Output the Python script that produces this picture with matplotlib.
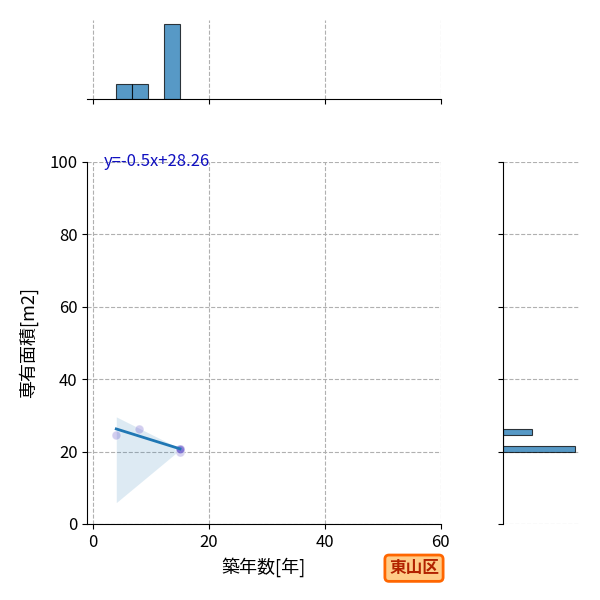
import numpy as np
import matplotlib
matplotlib.use("Agg")
import matplotlib.pyplot as plt

plt.rcParams['font.family'] = ['Noto Sans CJK JP', 'DejaVu Sans']
plt.rcParams['font.size'] = 12

# 読み取ったデータ
age = [4, 8, 15, 15, 15, 15, 15]          # 築年数[年]
area = [24.7, 26.2, 20.0, 20.5, 20.6, 20.6, 20.7]  # 専有面積[m2]
slope, intercept = -0.5, 28.26
band_x = [4, 15]
band_lo = [5.9, 20.5]
band_hi = [29.6, 20.8]
ward = "東山区"

fig = plt.figure(figsize=(6, 6), dpi=100)
ax = fig.add_axes([0.1455, 0.1267, 0.589, 0.6033])
ax_top = fig.add_axes([0.1455, 0.835, 0.589, 0.1317], sharex=ax)
ax_right = fig.add_axes([0.8378, 0.1267, 0.127, 0.6033], sharey=ax)

grid_kw = dict(color='#b0b0b0', linestyle='--', linewidth=0.8)

# 散布図 + 回帰直線
ax.scatter(age, area, s=40, color='slateblue', alpha=0.3, edgecolor='white', linewidth=0.8, zorder=3)
xs = np.array([min(age), max(age)])
ax.plot(xs, slope * xs + intercept, color='#1f77b4', lw=2, zorder=4)
ax.fill_between(band_x, band_lo, band_hi, color='#1f77b4', alpha=0.15, lw=0)
ax.text(1.9, 100, f"y={slope}x+{intercept}", color='#1010c0', va='center', fontsize=12)
ax.set_xlim(-1, 60)
ax.set_ylim(0, 100)
ax.set_xticks([0, 20, 40, 60])
ax.set_yticks([0, 20, 40, 60, 80, 100])
ax.grid(True, **grid_kw)
ax.set_axisbelow(True)
for s in ['top', 'right']:
    ax.spines[s].set_visible(False)
ax.set_xlabel("築年数[年]", fontsize=13, labelpad=5)
ax.set_ylabel("専有面積[m2]", fontsize=13, labelpad=8)

# 周辺ヒストグラム
ax_top.hist(age, bins='auto', color='#1f77b4', alpha=0.75, edgecolor='black', linewidth=0.8)
ax_top.set_ylim(0, 5.25)
ax_top.grid(True, axis='x', **grid_kw)
ax_top.set_axisbelow(True)
for s in ['top', 'right', 'left']:
    ax_top.spines[s].set_visible(False)
ax_top.tick_params(axis='x', labelbottom=False)
ax_top.tick_params(axis='y', left=False, labelleft=False)

ax_right.hist(area, bins='auto', orientation='horizontal', color='#1f77b4', alpha=0.75,
              edgecolor='black', linewidth=0.8)
ax_right.set_xlim(0, 5.25)
ax_right.grid(True, axis='y', **grid_kw)
ax_right.set_axisbelow(True)
for s in ['top', 'right', 'bottom']:
    ax_right.spines[s].set_visible(False)
ax_right.tick_params(axis='y', labelleft=False)
ax_right.tick_params(axis='x', bottom=False, labelbottom=False)

fig.text(0.69, 0.053, ward, ha='center', va='center', fontsize=12, fontweight='bold',
         color='#b22200',
         bbox=dict(boxstyle='round,pad=0.25', facecolor='#ffcc88', edgecolor='#ff6600', linewidth=2))

fig.savefig("out.png", dpi=100)
